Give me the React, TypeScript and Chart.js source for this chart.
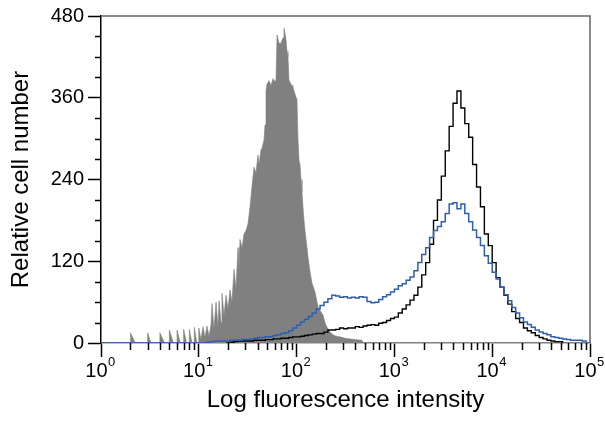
import React, { useEffect, useRef } from 'react';
import { Chart, registerables } from 'chart.js';

Chart.register(...registerables);

// Histogram channels (log10 of fluorescence intensity, left edge of each bin)
const channelLog = [
  0.00, 0.04, 0.08, 0.12, 0.16, 0.20, 0.24, 0.28, 0.32, 0.36,
  0.40, 0.44, 0.48, 0.52, 0.56, 0.60, 0.64, 0.68, 0.72, 0.76,
  0.80, 0.84, 0.88, 0.92, 0.96, 1.00, 1.04, 1.08, 1.12, 1.16,
  1.20, 1.24, 1.28, 1.32, 1.36, 1.40, 1.44, 1.48, 1.52, 1.56,
  1.60, 1.64, 1.68, 1.72, 1.76, 1.80, 1.84, 1.88, 1.92, 1.96,
  2.00, 2.04, 2.08, 2.12, 2.16, 2.20, 2.24, 2.28, 2.32, 2.36,
  2.40, 2.44, 2.48, 2.52, 2.56, 2.60, 2.64, 2.68, 2.72, 2.76,
  2.80, 2.84, 2.88, 2.92, 2.96, 3.00, 3.04, 3.08, 3.12, 3.16,
  3.20, 3.24, 3.28, 3.32, 3.36, 3.40, 3.44, 3.48, 3.52, 3.56,
  3.60, 3.64, 3.68, 3.72, 3.76, 3.80, 3.84, 3.88, 3.92, 3.96,
  4.00, 4.04, 4.08, 4.12, 4.16, 4.20, 4.24, 4.28, 4.32, 4.36,
  4.40, 4.44, 4.48, 4.52, 4.56, 4.60, 4.64, 4.68, 4.72, 4.76,
  4.80, 4.84, 4.88, 4.92, 4.96, 5.00,
];

// Blue histogram counts (one per channel)
const blueCounts = [
  0, 0, 0, 0, 0, 0, 0, 0, 0, 0,
  0, 0, 0, 0, 0, 0, 0, 0, 0, 0,
  0, 0, 0, 0, 0, 0, 0,
  1, 2, 3, 3, 3, 3, 4, 4, 4, 5,
  5, 6, 7, 8, 8, 9, 9, 11, 12, 14,
  15, 18, 22, 26, 31, 35, 39, 44, 50, 55,
  60, 65, 70, 69, 67, 68, 66, 67, 66, 68,
  67, 61, 59, 60, 64, 68, 71, 75, 79, 84,
  87, 92, 97, 106, 118, 130, 140, 155, 165, 171,
  178, 190, 204, 206, 197, 204, 190, 178, 166, 155,
  143, 128, 117, 104, 94, 82, 71, 62, 52, 44,
  37, 31, 27, 23, 19, 16, 14, 12, 9, 8,
  7, 6, 5, 4, 4, 4, 3, 0, 0,
];

// Black histogram counts (one per channel, null = no event drawn)
const blackCounts = [
  null, null, null, null, null, null, null, null, null, null,
  null, null, null, null, null, null, null, null, null, null,
  null, null, null, null, null, null, null, null, null, null,
  null, null,
  0,
  1, 2, 3, 3, 3, 3, 4, 4, 4, 5,
  5, 6, 6, 7, 7, 8, 9, 9, 10, 11,
  12, 13, 14, 14, 16, 19, 19, 20, 22, 21,
  22, 22, 24, 23, 25, 26, 27, 26, 29, 30,
  33, 36, 38, 44, 50, 56, 63, 70, 82, 100,
  118, 145, 180, 210, 245, 282, 318, 352, 370, 345,
  322, 302, 262, 229, 200, 160, 143, 118, 96, 82,
  70, 57, 46, 36, 30, 22, 18, 15, 11, 8,
  6, 4, 3, 2, 2, 0,
  null, null, null, null, null, null, null,
];

// Gray (filled) control histogram: log10 intensity and count
const grayLog = [
  0.301, 0.301, 0.35, 0.477, 0.477, 0.51, 0.602, 0.602, 0.65,
  0.699, 0.699, 0.74, 0.778, 0.778, 0.81, 0.845, 0.845, 0.875,
  0.903, 0.903, 0.93, 0.954, 0.954, 0.98,
  1.000, 1.000,
  1.022, 1.043, 1.063, 1.084, 1.104, 1.125, 1.135, 1.155, 1.176, 1.196,
  1.207, 1.227, 1.237, 1.258, 1.278, 1.299, 1.319, 1.339, 1.360, 1.380,
  1.401, 1.411, 1.421, 1.442, 1.462, 1.483, 1.503, 1.524, 1.544, 1.564,
  1.585, 1.605, 1.616, 1.636, 1.646, 1.667, 1.677, 1.687, 1.697, 1.718,
  1.738, 1.759, 1.779, 1.789, 1.800, 1.820, 1.840, 1.861, 1.871, 1.881,
  1.892, 1.902, 1.912, 1.922, 1.943, 1.953, 1.963, 1.984, 2.004, 2.014,
  2.025, 2.035, 2.045, 2.055, 2.065, 2.076, 2.086, 2.106, 2.117, 2.137,
  2.157, 2.188, 2.219, 2.239, 2.270, 2.290, 2.311, 2.342, 2.372, 2.403,
  2.444, 2.495, 2.546, 2.597, 2.669, 2.679,
];
const grayCount = [
  0, 15, 0, 0, 15, 0, 0, 15, 0,
  0, 19, 0, 0, 19, 0, 0, 20, 0,
  0, 20, 0, 0, 23, 0,
  0, 22,
  5, 24, 8, 25, 10, 26, 58, 20, 60, 25,
  62, 30, 73, 40, 70, 50, 78, 60, 108, 80,
  140, 100, 152, 140, 160, 165, 175, 200, 230, 258,
  250, 276, 262, 284, 286, 298, 320, 370, 380, 385,
  378, 388, 384, 385, 452, 440, 440, 448, 462, 455,
  445, 428, 420, 386, 380, 378, 375, 365, 357, 300,
  268, 262, 240, 222, 200, 180, 165, 140, 126, 105,
  88, 75, 53, 48, 41, 30, 23, 16, 12, 10,
  9, 7, 6, 5, 4, 0,
];

// Axis ticks
const xTickExponents = [0, 1, 2, 3, 4, 5];
const xTickBase = '10';
const xTickPowers = ['0', '1', '2', '3', '4', '5'];
const xMinorMultipliers = [2, 3, 4, 5, 6, 7, 8, 9];
const yLabelledTicks = [0, 120, 240, 360, 480];
const yTickStep = 30;

const FONT = "'Liberation Sans', Arial, sans-serif";

const axisDecorPlugin = {
  id: 'axisDecor',
  afterDraw(chart: any) {
    const { ctx, chartArea } = chart;
    const xs = chart.scales.x;
    const ys = chart.scales.y;
    ctx.save();
    // frame (top and right)
    ctx.strokeStyle = '#666';
    ctx.lineWidth = 1.5;
    ctx.beginPath();
    ctx.moveTo(chartArea.left, chartArea.top);
    ctx.lineTo(chartArea.right, chartArea.top);
    ctx.lineTo(chartArea.right, chartArea.bottom);
    ctx.stroke();
    // minor ticks
    ctx.strokeStyle = '#000';
    ctx.lineWidth = 1.5;
    ctx.beginPath();
    xs.ticks.forEach((t: any) => {
      if (!t.major) {
        const px = Math.round(xs.getPixelForValue(t.value)) + 0.5;
        ctx.moveTo(px, chartArea.bottom);
        ctx.lineTo(px, chartArea.bottom + 7);
      }
    });
    ys.ticks.forEach((t: any) => {
      if (!yLabelledTicks.includes(t.value)) {
        const py = Math.round(ys.getPixelForValue(t.value)) + 0.5;
        ctx.moveTo(chartArea.left - 6, py);
        ctx.lineTo(chartArea.left, py);
      }
    });
    ctx.stroke();
    // x tick labels with superscript exponents, placed on the scale's major ticks
    ctx.fillStyle = '#000';
    ctx.textBaseline = 'alphabetic';
    ctx.textAlign = 'left';
    xTickExponents.forEach((e, i) => {
      const px = xs.getPixelForValue(10 ** e);
      ctx.font = `20px ${FONT}`;
      const w1 = ctx.measureText(xTickBase).width;
      ctx.font = `13px ${FONT}`;
      const w2 = ctx.measureText(xTickPowers[i]).width;
      const x0 = px - (w1 + w2) / 2 - 1;
      ctx.font = `20px ${FONT}`;
      ctx.fillText(xTickBase, x0, chartArea.bottom + 34);
      ctx.font = `13px ${FONT}`;
      ctx.fillText(xTickPowers[i], x0 + w1 + 0.5, chartArea.bottom + 23);
    });
    ctx.restore();
  },
};

export default function App() {
  const canvasRef = useRef<HTMLCanvasElement | null>(null);

  useEffect(() => {
    const canvas = canvasRef.current;
    if (!canvas) return;

    const grayData = grayLog.map((l, i) => ({ x: 10 ** l, y: grayCount[i] }));
    const blackData = channelLog.map((l, i) => ({ x: 10 ** l, y: blackCounts[i] }));
    const blueData = channelLog.map((l, i) => ({ x: 10 ** l, y: blueCounts[i] }));

    const chart = new Chart(canvas, {
      type: 'line',
      data: {
        datasets: [
          {
            label: 'Blue',
            data: blueData as any,
            borderColor: '#2f5fae',
            borderWidth: 1.5,
            pointRadius: 0,
            stepped: true,
            fill: false,
          },
          {
            label: 'Black',
            data: blackData as any,
            borderColor: '#000000',
            borderWidth: 1.4,
            pointRadius: 0,
            stepped: true,
            fill: false,
            spanGaps: false,
          },
          {
            label: 'Control',
            data: grayData as any,
            borderColor: '#808080',
            backgroundColor: '#808080',
            borderWidth: 0.6,
            pointRadius: 0,
            tension: 0,
            fill: 'origin',
          },
        ],
      },
      options: {
        responsive: false,
        animation: false,
        devicePixelRatio: 1,
        layout: { padding: { top: 16, right: 15, left: 0, bottom: 0 } },
        plugins: {
          legend: { display: false },
          tooltip: { enabled: false },
        },
        scales: {
          x: {
            type: 'logarithmic',
            min: 1,
            max: 100000,
            afterBuildTicks: (scale: any) => {
              const ticks: any[] = [];
              xTickExponents.forEach((e, i) => {
                const base = 10 ** e;
                ticks.push({ value: base, major: true });
                if (i < xTickExponents.length - 1) {
                  xMinorMultipliers.forEach((m) => ticks.push({ value: m * base, major: false }));
                }
              });
              scale.ticks = ticks;
            },
            afterFit: (scale: any) => {
              scale.height = 78;
            },
            border: { display: true, color: '#808080', width: 1.5 },
            grid: {
              drawOnChartArea: false,
              drawTicks: true,
              tickLength: 14,
              tickWidth: 1.5,
              tickColor: (ctx: any) => (ctx.tick && ctx.tick.major ? '#000' : 'rgba(0,0,0,0)'),
            },
            ticks: {
              autoSkip: false,
              maxRotation: 0,
              minRotation: 0,
              padding: 2,
              color: '#000',
              font: { family: FONT, size: 19 },
              callback: () => '',
            },
            title: {
              display: true,
              text: 'Log fluorescence intensity',
              color: '#000',
              font: { family: FONT, size: 24 },
              padding: { top: 0, bottom: 6 },
            },
          },
          y: {
            type: 'linear',
            min: 0,
            max: 480,
            afterFit: (scale: any) => {
              scale.width = 101;
            },
            border: { display: true, color: '#000', width: 1.5 },
            grid: {
              drawOnChartArea: false,
              drawTicks: true,
              tickLength: 13,
              tickWidth: 1.5,
              tickColor: (ctx: any) =>
                ctx.tick && yLabelledTicks.includes(ctx.tick.value) ? '#000' : 'rgba(0,0,0,0)',
            },
            ticks: {
              stepSize: yTickStep,
              autoSkip: false,
              padding: 4,
              color: '#000',
              font: { family: FONT, size: 20 },
              callback: (value: any) => (yLabelledTicks.includes(Number(value)) ? String(value) : ''),
            },
            title: {
              display: true,
              text: 'Relative cell number',
              color: '#000',
              font: { family: FONT, size: 24 },
              padding: { top: 7, bottom: 0 },
            },
          },
        },
      },
      plugins: [axisDecorPlugin],
    });

    return () => {
      chart.destroy();
    };
  }, []);

  return (
    <div style={{ position: 'fixed', left: 0, top: 0, width: 605, height: 421, background: '#fff' }}>
      <canvas ref={canvasRef} width={605} height={421} style={{ display: 'block' }} />
    </div>
  );
}
